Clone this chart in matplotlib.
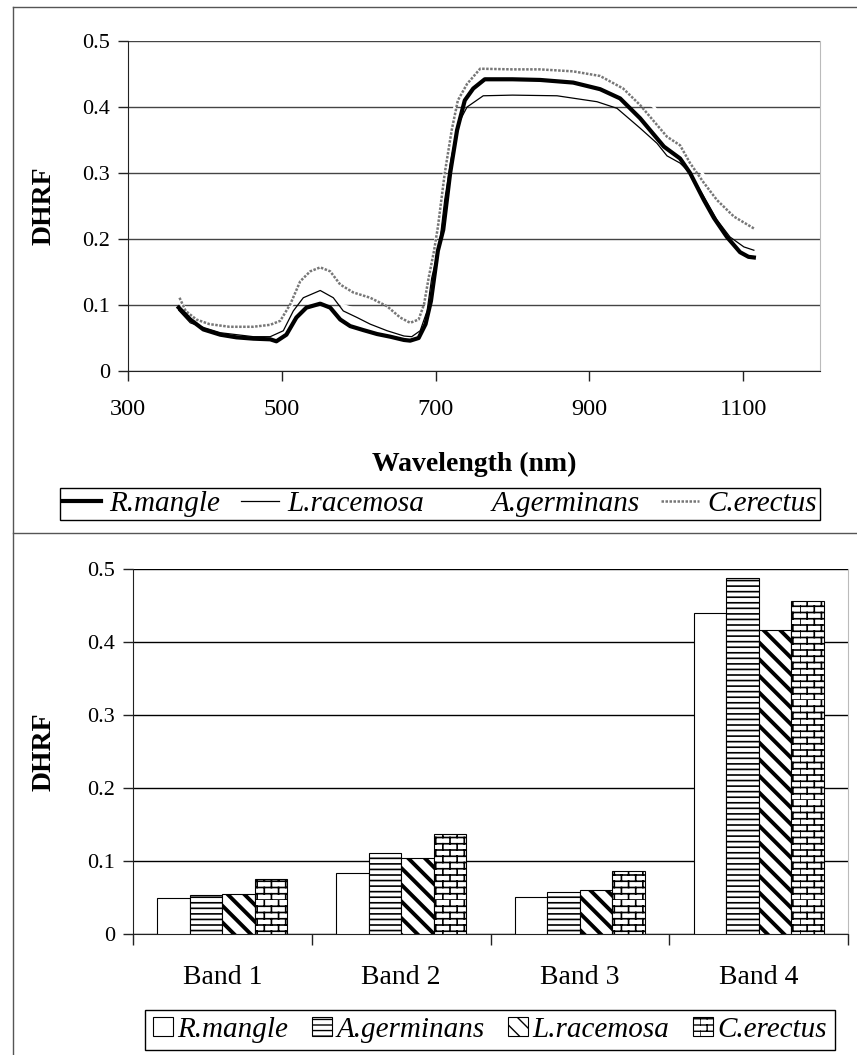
import warnings
warnings.filterwarnings("ignore")
import numpy as np
import matplotlib
matplotlib.use("Agg")
import matplotlib.pyplot as plt
import matplotlib.hatch as mhatch
from matplotlib.path import Path
from matplotlib.lines import Line2D
from matplotlib.patches import Patch

# ---------------- data ----------------
rm_nm = [366, 381, 398, 420, 441, 463, 485, 493, 506, 519, 532, 550, 563, 576, 589, 606, 624, 641, 659, 667,
         678, 687, 694, 703, 710, 719, 728, 738, 749, 764, 800, 836, 879, 914, 940, 966, 997, 1018, 1031, 1049,
         1062, 1079, 1096, 1107, 1114]
rm_val = [0.096, 0.078, 0.063, 0.055, 0.051, 0.049, 0.048, 0.045, 0.055, 0.081, 0.096, 0.102, 0.096, 0.078,
          0.068, 0.062, 0.056, 0.052, 0.047, 0.046, 0.050, 0.071, 0.106, 0.182, 0.214, 0.300, 0.365, 0.410,
          0.428, 0.442, 0.442, 0.441, 0.437, 0.427, 0.413, 0.383, 0.340, 0.322, 0.300, 0.259, 0.232, 0.203,
          0.180, 0.173, 0.172]

lr_nm = [366, 381, 398, 420, 463, 485, 502, 515, 528, 550, 567, 580, 598, 615, 637, 659, 669, 680, 689, 695,
         705, 712, 720, 727, 732, 741, 762, 800, 858, 910, 936, 966, 988, 1001, 1018, 1031, 1049, 1066, 1083,
         1101, 1114]
lr_val = [0.092, 0.073, 0.066, 0.058, 0.052, 0.052, 0.061, 0.091, 0.111, 0.122, 0.111, 0.091, 0.081, 0.071,
          0.061, 0.053, 0.052, 0.061, 0.091, 0.141, 0.190, 0.260, 0.320, 0.360, 0.380, 0.400, 0.417, 0.418,
          0.417, 0.408, 0.398, 0.368, 0.345, 0.326, 0.315, 0.300, 0.264, 0.229, 0.203, 0.188, 0.183]

ag_nm = [370, 400, 450, 490, 513, 530, 550, 565, 578, 600, 640, 670, 689, 700, 720, 740, 760, 850, 900, 940,
         984, 1010, 1040, 1080, 1112]
ag_val = [0.100, 0.072, 0.066, 0.068, 0.100, 0.125, 0.135, 0.125, 0.100, 0.092, 0.082, 0.070, 0.100, 0.200,
          0.380, 0.460, 0.475, 0.472, 0.462, 0.440, 0.400, 0.360, 0.310, 0.250, 0.225]

ce_nm = [367, 375, 389, 406, 432, 463, 485, 498, 511, 524, 537, 550, 563, 576, 593, 615, 637, 654, 667, 678,
         685, 691, 698, 703, 712, 721, 729, 741, 758, 800, 836, 879, 914, 944, 966, 1001, 1018, 1031, 1049,
         1066, 1088, 1114]
ce_val = [0.111, 0.091, 0.078, 0.071, 0.067, 0.067, 0.070, 0.076, 0.101, 0.136, 0.151, 0.157, 0.151, 0.131,
          0.119, 0.111, 0.098, 0.081, 0.073, 0.078, 0.101, 0.141, 0.182, 0.218, 0.300, 0.365, 0.410, 0.435,
          0.458, 0.457, 0.457, 0.454, 0.447, 0.428, 0.403, 0.355, 0.342, 0.315, 0.285, 0.259, 0.234, 0.216]

bands = ["Band 1", "Band 2", "Band 3", "Band 4"]
bar_rm = [0.049, 0.084, 0.051, 0.4395]
bar_ag = [0.053, 0.111, 0.058, 0.487]
bar_lr = [0.055, 0.104, 0.060, 0.416]
bar_ce = [0.076, 0.137, 0.086, 0.456]

x_ticks = [300, 500, 700, 900, 1100]
y_ticks = [0, 0.1, 0.2, 0.3, 0.4, 0.5]
y_ticklabels = ["0", "0.1", "0.2", "0.3", "0.4", "0.5"]


# ---------------- brick hatch ----------------
class BrickHatch(mhatch.HatchPatternBase):
    def __init__(self, hatch, density):
        self.on = "b" in hatch
        self.rows = 16
        self.cols = 7
        self.num_vertices = (self.rows * 2 + self.rows * self.cols * 2) if self.on else 0

    def set_vertices_and_codes(self, vertices, codes):
        R, C = self.rows, self.cols
        k = 0
        for i in range(R):
            y = i / R
            vertices[k] = (0.0, y)
            vertices[k + 1] = (1.0, y)
            codes[k] = Path.MOVETO
            codes[k + 1] = Path.LINETO
            k += 2
        for i in range(R):
            off = 0.5 / C if i % 2 else 0.0
            for j in range(C):
                x = j / C + off
                vertices[k] = (x, i / R)
                vertices[k + 1] = (x, (i + 1) / R)
                codes[k] = Path.MOVETO
                codes[k + 1] = Path.LINETO
                k += 2


mhatch._hatch_types.append(BrickHatch)
mhatch._validate_hatch_pattern = lambda h: None

plt.rcParams["font.family"] = ["Liberation Serif", "DejaVu Serif"]
plt.rcParams["mathtext.fontset"] = "stix"

W, H = 857, 1055
fig = plt.figure(figsize=(W / 100, H / 100), dpi=100)


def fx(px):
    return px / W


def fy(py):
    return 1 - py / H


# frame lines
fc = "#555555"
fig.add_artist(Line2D([fx(13), fx(13)], [fy(7), 0], transform=fig.transFigure, color=fc, lw=1.0))
fig.add_artist(Line2D([fx(13), 1], [fy(7), fy(7)], transform=fig.transFigure, color=fc, lw=1.0))
fig.add_artist(Line2D([fx(13), 1], [fy(533), fy(533)], transform=fig.transFigure, color=fc, lw=1.0))

# ---------------- top line chart ----------------
ax1 = fig.add_axes([fx(128), fy(371), fx(820) - fx(128), fy(41) - fy(371)])
ax1.set_xlim(300, 1200)
ax1.set_ylim(0, 0.5)
ax1.set_xticks(x_ticks)
ax1.set_xticklabels([str(v) for v in x_ticks], fontsize=17.5)
ax1.set_yticks(y_ticks)
ax1.set_yticklabels(y_ticklabels, fontsize=16)
ax1.yaxis.grid(True, color="#444444", lw=1.0)
ax1.set_axisbelow(True)
ax1.spines["top"].set_visible(False)
ax1.spines["right"].set_color("#bbbbbb")
ax1.spines["left"].set_color("#222222")
ax1.spines["bottom"].set_color("#222222")
ax1.tick_params(axis="both", direction="out", length=7, width=1, color="#222222")
ax1.tick_params(axis="x", pad=13)
ax1.tick_params(axis="y", pad=6)

ax1.plot(ag_nm, ag_val, color="white", lw=2.0, zorder=2, label="A.germinans")
ax1.plot(ce_nm, ce_val, color="#777777", lw=1.8, ls=(0, (1, 0.6)), zorder=3, label="C.erectus")
ax1.plot(lr_nm, lr_val, color="black", lw=0.9, zorder=4, label="L.racemosa")
ax1.plot(rm_nm, rm_val, color="black", lw=3.0, zorder=5, label="R.mangle")

ax1.set_ylabel("DHRF", fontsize=20, fontweight="bold")
ax1.yaxis.set_label_coords((57 - 128) / 692, 0.5)
ax1.set_xlabel("Wavelength (nm)", fontsize=20, fontweight="bold")
ax1.xaxis.set_label_coords(0.5, (371 - 452) / 330)

h_top = [Line2D([], [], color="black", lw=3.0),
         Line2D([], [], color="black", lw=0.9),
         Line2D([], [], color="white", lw=2.0),
         Line2D([], [], color="#777777", lw=1.8, ls=(0, (1, 0.6)))]
l_top = ["R.mangle", "L.racemosa", "A.germinans", "C.erectus"]
leg1 = fig.legend(h_top, l_top, loc="center", ncol=4, mode="expand",
                  bbox_to_anchor=(fx(60), fy(524), fx(820) - fx(60), fy(484) - fy(524)),
                  bbox_transform=fig.transFigure, frameon=True, fancybox=False,
                  edgecolor="black", framealpha=1, borderpad=0.1, handlelength=1.3,
                  handletextpad=0.3, columnspacing=0.5, borderaxespad=0,
                  prop={"family": ["Liberation Serif"], "style": "italic", "size": 21})
leg1.get_frame().set_linewidth(1.0)

# ---------------- bottom bar chart ----------------
ax2 = fig.add_axes([fx(133), fy(934), fx(848) - fx(133), fy(569) - fy(934)])
ax2.set_xlim(0, 4)
ax2.set_ylim(0, 0.5)
centers = np.arange(len(bands)) + 0.5
bw = 0.1816
series = [(bar_rm, "", "R.mangle", 1.0),
          (bar_ag, "---", "A.germinans", 1.2),
          (bar_lr, "\\\\", "L.racemosa", 2.8),
          (bar_ce, "b", "C.erectus", 1.2)]
handles2 = []
for i, (vals, hatch, lab, hlw) in enumerate(series):
    with plt.rc_context({"hatch.linewidth": hlw, "hatch.color": "black"}):
        bars = ax2.bar(centers + (i - 1.5) * bw, vals, width=bw, facecolor="white",
                       edgecolor="black", linewidth=0.8, hatch=hatch, zorder=3, label=lab)
        for p in bars:
            if hasattr(p, "set_hatch_linewidth"):
                p.set_hatch_linewidth(hlw)
        hp = Patch(facecolor="white", edgecolor="black", linewidth=0.8, hatch=hatch, label=lab)
        if hasattr(hp, "set_hatch_linewidth"):
            hp.set_hatch_linewidth(hlw)
        handles2.append(hp)

ax2.set_xticks([0, 1, 2, 3, 4])
ax2.set_xticklabels([])
ax2.set_xticks(centers, minor=True)
ax2.set_xticklabels(bands, minor=True, fontsize=20)
ax2.tick_params(axis="x", which="minor", length=0, pad=22)
ax2.tick_params(axis="x", which="major", direction="out", length=8, width=1, color="#222222")
ax2.set_yticks(y_ticks)
ax2.set_yticklabels(y_ticklabels, fontsize=16)
ax2.tick_params(axis="y", direction="out", length=7, width=1, color="#222222", pad=6)
ax2.yaxis.grid(True, color="black", lw=1.0)
ax2.set_axisbelow(True)
ax2.spines["top"].set_visible(False)
ax2.spines["right"].set_color("#bbbbbb")
ax2.spines["left"].set_color("#222222")
ax2.spines["bottom"].set_color("#222222")
ax2.set_ylabel("DHRF", fontsize=20, fontweight="bold")
ax2.yaxis.set_label_coords((57 - 133) / 715, 0.5)

leg2 = fig.legend(handles=handles2, loc="center", ncol=4,
                  bbox_to_anchor=(fx(490), fy(1030)), bbox_transform=fig.transFigure,
                  frameon=True, fancybox=False, edgecolor="black", framealpha=1,
                  borderpad=0.25, handlelength=0.7, handleheight=0.65, handletextpad=0.15,
                  columnspacing=0.8, borderaxespad=0,
                  prop={"family": ["Liberation Serif"], "style": "italic", "size": 21})
leg2.get_frame().set_linewidth(1.0)

fig.savefig("out.png", dpi=100)
